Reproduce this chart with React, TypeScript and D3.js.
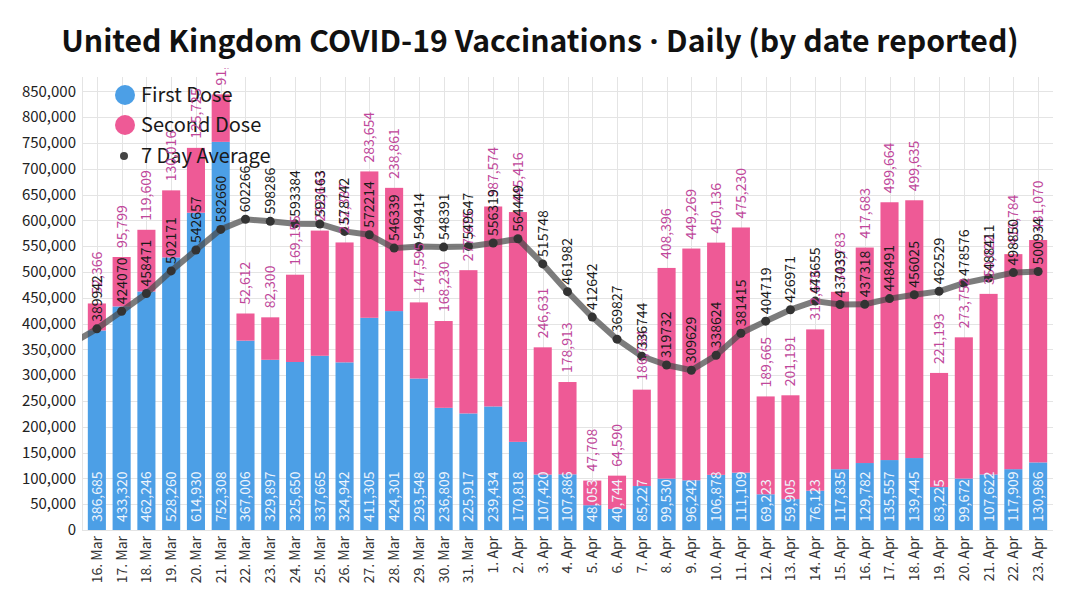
import React from 'react';
import * as d3 from 'd3';

const dates = [
  '16. Mar', '17. Mar', '18. Mar', '19. Mar', '20. Mar', '21. Mar', '22. Mar', '23. Mar',
  '24. Mar', '25. Mar', '26. Mar', '27. Mar', '28. Mar', '29. Mar', '30. Mar', '31. Mar',
  '1. Apr', '2. Apr', '3. Apr', '4. Apr', '5. Apr', '6. Apr', '7. Apr', '8. Apr',
  '9. Apr', '10. Apr', '11. Apr', '12. Apr', '13. Apr', '14. Apr', '15. Apr', '16. Apr',
  '17. Apr', '18. Apr', '19. Apr', '20. Apr', '21. Apr', '22. Apr', '23. Apr',
];

const firstDose = [
  386685, 433320, 462246, 528260, 614930, 752308, 367006, 329897,
  325650, 337665, 324942, 411305, 424301, 293548, 236809, 225917,
  239434, 170818, 107420, 107886, 48053, 40744, 85227, 99530,
  96242, 106878, 111109, 69223, 59905, 76123, 117835, 129782,
  135557, 139445, 83225, 99672, 107622, 117909, 130986,
];

const secondDose = [
  52366, 95799, 119609, 130016, 125725, 91979, 52612, 82300,
  169155, 242643, 232387, 283654, 238861, 147595, 168230, 277675,
  387574, 445416, 246631, 178913, 47708, 64590, 186784, 408396,
  449269, 450136, 475230, 189665, 201191, 312676, 343783, 417683,
  499664, 499635, 221193, 273752, 350022, 416784, 431070,
];

const sevenDayAvg = [
  389942, 424070, 458471, 502171, 542657, 582660, 602266, 598286,
  593384, 593163, 578742, 572214, 546339, 549414, 548391, 549647,
  556319, 564449, 515748, 461982, 412642, 369827, 336744, 319732,
  309629, 338624, 381415, 404719, 426971, 443655, 437039, 437318,
  448491, 456025, 462529, 478576, 488411, 498850, 500934,
];

// 7-day average of the day before the first shown day (line enters from the left edge)
const avgBefore = 362000;

const yTicks = d3.range(0, 850001, 50000);

const FONT = '"Noto Sans CJK SC", "Noto Sans", sans-serif';
const BLUE = '#4c9fe6';
const PINK = '#ee5a96';
const PINK_LABEL = '#c0479b';

export default function App() {
  const x = d3.scaleBand<string>().domain(dates).range([82, 1053]).paddingInner(0.27).paddingOuter(0.235);
  const y = d3.scaleLinear().domain([0, 878000]).range([530, 77]);
  const bw = x.bandwidth();
  const cx = (d: string) => (x(d) as number) + bw / 2;
  const fmt = d3.format(',');

  const stack = d3.stack<number>().keys(['first', 'second'])
    .value((i, key) => (key === 'first' ? firstDose[i] : secondDose[i]));
  const series = stack(d3.range(dates.length));

  const pts: [number, number][] = [
    [cx(dates[0]) - x.step(), y(avgBefore)],
    ...dates.map((d, i) => [cx(d), y(sevenDayAvg[i])] as [number, number]),
  ];
  const linePath = d3.line<[number, number]>().x(p => p[0]).y(p => p[1])(pts) || '';

  const rot = (px: number, py: number) => `translate(${px},${py}) rotate(-90)`;

  return (
    <svg width={1080} height={608} style={{ position: 'absolute', left: 0, top: 0, background: '#fff' }}
      fontFamily={FONT}>
      <defs>
        <clipPath id="plot">
          <rect x={82} y={68} width={971} height={462} />
        </clipPath>
      </defs>
      <rect width={1080} height={608} fill="#fff" />
      <text x={540} y={52} textAnchor="middle" fontSize={30.2} fontWeight={700} fill="#111">
        United Kingdom COVID-19 Vaccinations<tspan fontFamily='"Noto Sans", sans-serif'> · </tspan>Daily (by date reported)
      </text>

      {/* grid */}
      <g stroke="#e4e4e4" strokeWidth={1}>
        {yTicks.map(t => (
          <line key={'h' + t} x1={82} x2={1053} y1={Math.round(y(t)) + 0.5} y2={Math.round(y(t)) + 0.5} />
        ))}
        {dates.map(d => (
          <line key={'v' + d} x1={Math.round(cx(d)) + 0.5} x2={Math.round(cx(d)) + 0.5} y1={77} y2={530} />
        ))}
        <line x1={82.5} x2={82.5} y1={77} y2={530} />
      </g>

      {/* y axis labels */}
      <g fontSize={15} fill="#222" textAnchor="end">
        {yTicks.map(t => (
          <text key={'yl' + t} x={76} y={y(t)} dy="0.35em">{fmt(t)}</text>
        ))}
      </g>

      {/* x axis labels */}
      <g fontSize={14} fill="#333" textAnchor="end">
        {dates.map(d => (
          <text key={'xl' + d} transform={rot(cx(d), 536)} dy="0.35em">{d}</text>
        ))}
      </g>

      {/* bars */}
      {series.map((s, si) => (
        <g key={s.key} fill={si === 0 ? BLUE : PINK}>
          {s.map((seg, i) => (
            <rect key={i} x={x(dates[i])} width={bw} y={y(seg[1])} height={y(seg[0]) - y(seg[1])} />
          ))}
        </g>
      ))}

      {/* 7 day average */}
      <g clipPath="url(#plot)">
        <path d={linePath} fill="none" stroke="#4a4a4a" strokeOpacity={0.72} strokeWidth={6} strokeLinejoin="round" />
        {dates.map((d, i) => (
          <circle key={'p' + d} cx={cx(d)} cy={y(sevenDayAvg[i])} r={4.5} fill="#333" />
        ))}
      </g>

      {/* legend */}
      <g fontSize={20} fill="#1a1a1a">
        <circle cx={125} cy={95} r={10} fill={BLUE} />
        <text x={141} y={95} dy="0.35em">First Dose</text>
        <circle cx={125} cy={125} r={10} fill={PINK} />
        <text x={141} y={125} dy="0.35em">Second Dose</text>
        <circle cx={124} cy={156} r={4} fill="#444" />
        <text x={141} y={156} dy="0.35em">7 Day Average</text>
      </g>

      {/* labels */}
      <g clipPath="url(#plot)" fontSize={14}>
        {dates.map((d, i) => (
          <text key={'fl' + d} transform={rot(cx(d), 522)} dy="0.35em" fill="#eef5fd">{fmt(firstDose[i])}</text>
        ))}
        {dates.map((d, i) => (
          <text key={'sl' + d} transform={rot(cx(d), y(firstDose[i] + secondDose[i]) - 9)} dy="0.35em" fill={PINK_LABEL}>
            {fmt(secondDose[i])}
          </text>
        ))}
        {dates.map((d, i) => (
          <text key={'al' + d} transform={rot(cx(d), y(sevenDayAvg[i]) - 7)} dy="0.35em" fill="#1a1a1a">
            {String(sevenDayAvg[i])}
          </text>
        ))}
      </g>
    </svg>
  );
}
